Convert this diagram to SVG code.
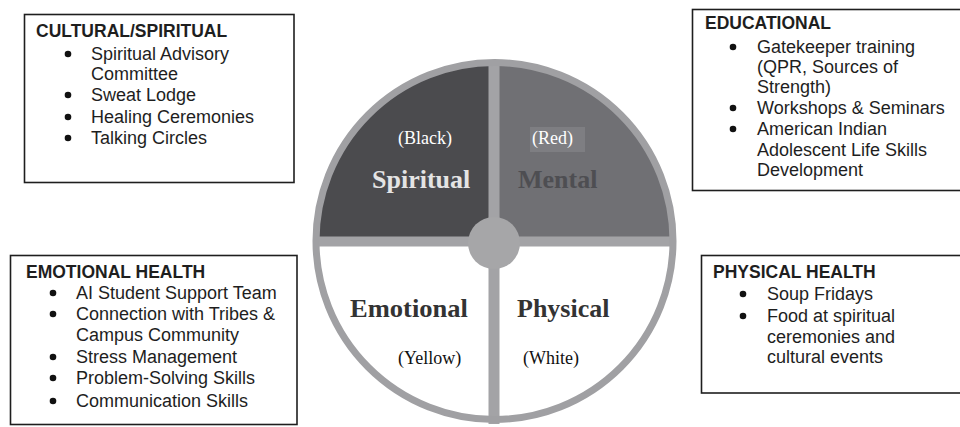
<svg xmlns="http://www.w3.org/2000/svg" width="960" height="427" viewBox="0 0 960 427">
<style>
.box{fill:#fff;stroke:#1e1e1e;stroke-width:1.6}
.t{font-family:"Liberation Sans",Arial,sans-serif;font-size:18px;fill:#1e1e1e}
.h{font-weight:bold;font-size:17.5px}
.b{fill:#111}
.w{font-family:"Liberation Serif","Times New Roman",serif;font-weight:bold;font-size:26px}
.c{font-family:"Liberation Serif","Times New Roman",serif;font-size:18px}
</style>
<rect width="960" height="427" fill="#fff"/>

<g id="wheel">
<path d="M494,241 L314,241 A180,180 0 0,1 494,61 Z" fill="#4b4b4e"/>
<path d="M494,241 L494,61 A180,180 0 0,1 674,241 Z" fill="#707074"/>
<rect x="530" y="127" width="55" height="25" fill="#7e7e82"/>
<rect x="488.5" y="60" width="11" height="364" fill="#a3a3a6"/>
<rect x="314" y="236.5" width="362" height="10" fill="#a3a3a6"/>
<circle cx="494" cy="243" r="26" fill="#a6a6a8"/>
<circle cx="494.5" cy="241" r="178.5" fill="none" stroke="#a0a0a3" stroke-width="7"/>
<text class="w" x="372" y="188" fill="#e4e4e4">Spiritual</text>
<text class="w" x="518" y="188" fill="#4e4e52">Mental</text>
<text class="w" x="350" y="317" fill="#333" textLength="118" lengthAdjust="spacingAndGlyphs">Emotional</text>
<text class="w" x="517" y="317" fill="#333">Physical</text>
<text class="c" x="398" y="144" fill="#fff">(Black)</text>
<text class="c" x="532" y="144" fill="#fff">(Red)</text>
<text class="c" x="398" y="364" fill="#111">(Yellow)</text>
<text class="c" x="523" y="364" fill="#111">(White)</text>
</g>

<g id="cultural">
<rect class="box" x="24.5" y="14.5" width="269.5" height="168"/>
<text class="t h" x="36" y="37">CULTURAL/SPIRITUAL</text>
<circle class="b" cx="68" cy="54" r="3.3"/>
<text class="t" x="91" y="60">Spiritual Advisory</text>
<text class="t" x="91" y="80">Committee</text>
<circle class="b" cx="68" cy="95" r="3.3"/>
<text class="t" x="91" y="101">Sweat Lodge</text>
<circle class="b" cx="68" cy="117" r="3.3"/>
<text class="t" x="91" y="123">Healing Ceremonies</text>
<circle class="b" cx="68" cy="138" r="3.3"/>
<text class="t" x="91" y="144">Talking Circles</text>
</g>

<g id="educational">
<rect class="box" x="692.5" y="9.5" width="275" height="181"/>
<text class="t h" x="705" y="29">EDUCATIONAL</text>
<circle class="b" cx="733" cy="47" r="3.3"/>
<text class="t" x="757" y="53">Gatekeeper training</text>
<text class="t" x="757" y="73">(QPR, Sources of</text>
<text class="t" x="757" y="93">Strength)</text>
<circle class="b" cx="733" cy="108" r="3.3"/>
<text class="t" x="757" y="114">Workshops &amp; Seminars</text>
<circle class="b" cx="733" cy="129" r="3.3"/>
<text class="t" x="757" y="135">American Indian</text>
<text class="t" x="757" y="156">Adolescent Life Skills</text>
<text class="t" x="757" y="176">Development</text>
</g>

<g id="emotional">
<rect class="box" x="10.5" y="255.5" width="286.5" height="169"/>
<text class="t h" x="26" y="278">EMOTIONAL HEALTH</text>
<circle class="b" cx="53" cy="293" r="3.3"/>
<text class="t" x="76" y="299">AI Student Support Team</text>
<circle class="b" cx="53" cy="314" r="3.3"/>
<text class="t" x="76" y="320">Connection with Tribes &amp;</text>
<text class="t" x="76" y="341">Campus Community</text>
<circle class="b" cx="53" cy="357" r="3.3"/>
<text class="t" x="76" y="363">Stress Management</text>
<circle class="b" cx="53" cy="378" r="3.3"/>
<text class="t" x="76" y="384">Problem-Solving Skills</text>
<circle class="b" cx="53" cy="401" r="3.3"/>
<text class="t" x="76" y="407">Communication Skills</text>
</g>

<g id="physical">
<rect class="box" x="701.5" y="255.5" width="266" height="137.5"/>
<text class="t h" x="713" y="278">PHYSICAL HEALTH</text>
<circle class="b" cx="743" cy="294" r="3.3"/>
<text class="t" x="767" y="300">Soup Fridays</text>
<circle class="b" cx="743" cy="316" r="3.3"/>
<text class="t" x="767" y="322">Food at spiritual</text>
<text class="t" x="767" y="343">ceremonies and</text>
<text class="t" x="767" y="363">cultural events</text>
</g>

<g id="connectors"></g>
</svg>
